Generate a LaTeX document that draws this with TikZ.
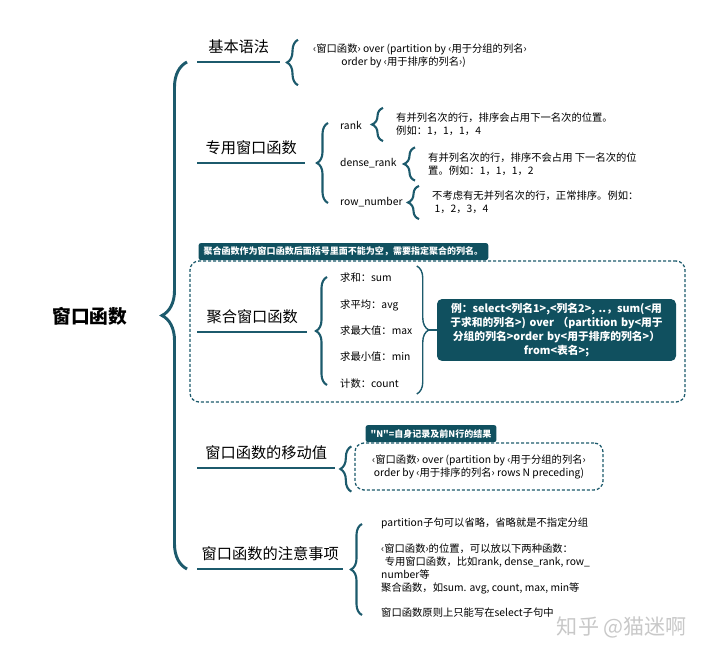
\documentclass[tikz,border=0pt]{standalone}
\usepackage{fontspec}
\setmainfont{Noto Sans CJK SC}
\newfontfamily\plainquote{Noto Sans CJK SC}
\usetikzlibrary{positioning,calc,decorations.pathreplacing}
\definecolor{Window}{HTML}{1C5A6C}
\definecolor{WindowDark}{HTML}{10505F}
\definecolor{MarkGray}{HTML}{C8C8C8}
\newlength\px
\setlength\px{0.03cm}

\begin{document}
\begin{tikzpicture}[
    x=0.03cm, y=-0.03cm,
    root/.style={font=\fontsize{16}{19}\selectfont\bfseries},
    branch/.style={font=\fontsize{13}{16}\selectfont,anchor=south west,inner ysep=7pt},
    branchline/.style={line width=2.5pt,color=Window},
    leaf/.style={font=\fontsize{8.8}{11}\selectfont,align=left,inner sep=0pt,anchor=west},
    bigbrace/.style={decorate,decoration={brace,amplitude=25\px},line width=2.5pt,color=Window},
    subbrace/.style={decorate,decoration={brace,amplitude=11\px},line width=1.8pt,color=Window},
    thinbrace/.style={decorate,decoration={brace,amplitude=12\px},line width=1.2pt,color=Window},
    dashframe/.style={draw=Window,dash pattern=on 3\px off 2\px,line width=1.1pt,rounded corners=9\px,align=center,font=\fontsize{8.8}{11}\selectfont},
    tag/.style={fill=WindowDark,text=white,font=\fontsize{7.7}{9}\selectfont\bfseries,rounded corners=2pt,inner xsep=5\px,minimum height=17\px,anchor=south west},
    codebox/.style={fill=WindowDark,text=white,font=\fontsize{9.2}{12}\selectfont\bfseries,rounded corners=5\px,align=center,text width=217\px,inner xsep=11\px,inner ysep=4\px},
    watermark/.style={text=MarkGray,font=\fontsize{18}{20}\selectfont}
  ]
    \useasboundingbox (0,0) rectangle (720,654);

    % root and branches
    \node[root] (root) at (90,316) {窗口函数};
    \node[branch,minimum width=83\px] (syntax) at (197,62) {基本语法};
    \node[branch,minimum width=108\px] (special) at (197,163) {专用窗口函数};
    \node[branch,minimum width=110\px] (agg) at (197,332) {聚合窗口函数};
    \node[branch,minimum width=138\px] (moving) at (197,468) {窗口函数的移动值};
    \node[branch,minimum width=146\px] (notes) at (197,569) {窗口函数的注意事项};
    \foreach \b in {syntax,special,agg,moving,notes}
      \draw[branchline] (\b.south west) -- (\b.south east);
    \draw[bigbrace] ($(notes.south west)+(-10,0)$) -- ($(syntax.south west)+(-10,0)$);

    % basic syntax
    \node[leaf] (syntaxtext) at (313,56) {‹窗口函数› over (partition by ‹用于分组的列名›\\\hspace*{24pt}order by ‹用于排序的列名›)};
    \draw[subbrace] ($(syntaxtext.south west)+(-15,17)$) -- ($(syntaxtext.north west)+(-15,-4)$);

    % special window functions
    \node[leaf] (rank) at (340,125) {rank};
    \node[leaf] (dense) at (340,163) {dense\_rank};
    \node[leaf] (rownum) at (340,202) {row\_number};
    \draw[subbrace] ($(rownum.west)+(-12,1)$) -- ($(rank.west)+(-12,-2)$);
    \node[leaf] (rankdesc) at (396,124.5) {有并列名次的行，排序会占用下一名次的位置。\\例如：1，1，1，4};
    \node[leaf] (densedesc) at (428,164) {有并列名次的行，排序不会占用 下一名次的位\\置。例如：1，1，1，2};
    \node[leaf] (rowdesc) at (432,202.5) {不考虑有无并列名次的行，正常排序。例如：\\\hspace*{2pt}1，2，3，4};
    \foreach \d in {rankdesc,densedesc,rowdesc}
      \draw[subbrace] ($(\d.south west)+(-13,5)$) -- ($(\d.north west)+(-13,-5)$);

    % aggregate window functions
    \node[dashframe,minimum width=495\px,minimum height=141\px] (aggframe) at (437.5,331.5) {};
    \node[tag] (aggtag) at ($(aggframe.north west)+(9,0)$) {聚合函数作为窗口函数后面括号里面不能为空，需要指定聚合的列名。};
    \node[leaf] (sum) at (340,278) {求和：sum};
    \node[leaf] (avg) at (340,305) {求平均：avg};
    \node[leaf] (max) at (340,331) {求最大值：max};
    \node[leaf] (min) at (340,357) {求最小值：min};
    \node[leaf] (count) at (340,384) {计数：count};
    \draw[subbrace] ($(count.west)+(-13,1)$) -- ($(sum.west)+(-13,-1)$);
    \node[codebox] (aggbox) at (556.5,330) {例：select<列名1>,<列名2>, ..，sum(<用\\于求和的列名>) over （partition by<用于\\分组的列名>order by<用于排序的列名>）\\from<表名>;};
    \coordinate (aggtip) at ($(aggbox.west)+(-8,0)$);
    \draw[thinbrace] ($(aggtip)+(-12,-64)$) -- ($(aggtip)+(-12,64)$);
    \draw[Window,line width=1.2pt] (aggtip) -- (aggbox.west);

    % moving value
    \node[dashframe,minimum width=248\px,minimum height=47\px] (movingframe) at (479,466.5) {‹窗口函数› over (partition by ‹用于分组的列名›\\order by ‹用于排序的列名› rows N preceding)};
    \node[tag] (movingtag) at ($(movingframe.north west)+(11,0)$) {{\plainquote"}N{\plainquote"}=自身记录及前N行的结果};
    \draw[subbrace] ($(movingframe.south west)+(-3,1)$) -- ($(movingframe.north west)+(-3,4)$);

    % notes
    \node[leaf] (notestext) at (381,568) {partition子句可以省略，省略就是不指定分组\\[10.9pt]‹窗口函数›的位置，可以放以下两种函数：\\\hspace*{3pt}专用窗口函数，比如rank, dense\_rank, row\_\\number等\\聚合函数，如sum. avg, count, max, min等\\[10.9pt]窗口函数原则上只能写在select子句中};
    \draw[subbrace] ($(notestext.south west)+(-19,-3)$) -- ($(notestext.north west)+(-19,6)$);

    \node[watermark] (zhihu) at (622,627) {知乎 @猫迷啊};
  \end{tikzpicture}
\end{document}
